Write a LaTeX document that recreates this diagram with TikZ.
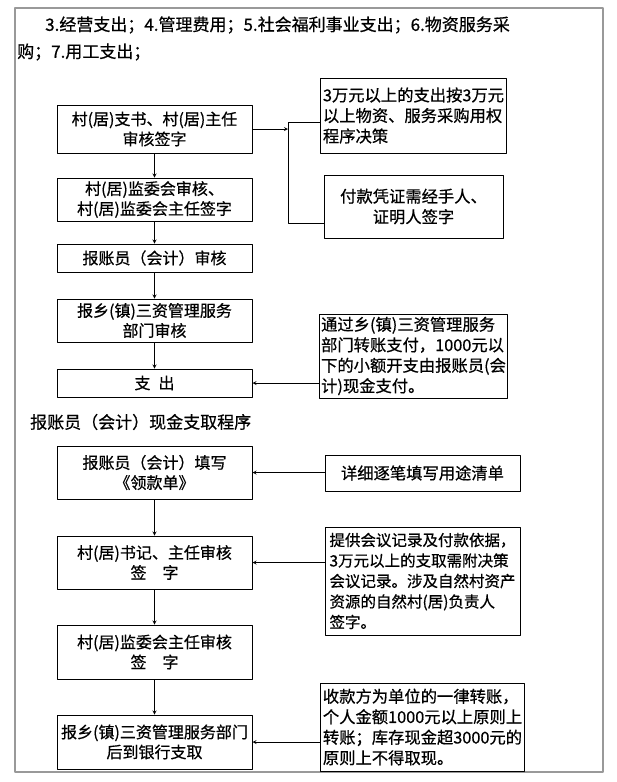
\documentclass[tikz,border=0pt]{standalone}
\usepackage{fontspec}
\setmainfont{Noto Sans CJK SC}[FakeBold=0.6]
\begin{document}
\begin{tikzpicture}[line join=round,>=stealth,x=1pt,y=-1pt]
\tikzset{box style/.style={draw,line width=1pt,minimum width=195pt,inner sep=2pt,align=center,font=\fontsize{16}{20}\selectfont},
	note style/.style={draw,line width=1pt,inner sep=2pt,align=left,font=\fontsize{16.3}{20.5}\selectfont},
	head style/.style={anchor=west,inner sep=0pt,font=\fontsize{17}{20}\selectfont}}
\useasboundingbox (0,0) rectangle (617,782);
\draw[gray!80,line width=1.2pt] (15,8) rectangle (603,772);
\node[head style] (head1) at (45,25) {3.经营支出；4.管理费用；5.社会福利事业支出；6.物资服务采};
\node[head style] (head2) at (17,52) {购；7.用工支出；};
% first procedure
\node[box style,minimum height=48pt] (a) at (154.5,129) {村(居)支书、村(居)主任\\审核签字};
\node[box style,minimum height=43pt] (b) at (154.5,199.5) {村(居)监委会审核、\\村(居)监委会主任签字};
\node[box style,minimum height=28pt] (c) at (154.5,258) {报账员（会计）审核};
\node[box style,minimum height=43pt] (d) at (154.5,320.5) {报乡(镇)三资管理服务\\部门审核};
\node[box style,minimum height=28pt] (e) at (154.5,383) {支\enspace 出};
\node[note style,minimum width=179pt,minimum height=75pt] (r1) at (413.5,115.5) {3万元以上的支出按3万元\\以上物资、服务采购用权\\程序决策};
\node[note style,align=center,minimum width=179pt,minimum height=63pt] (r2) at (413.5,206.5) {付款凭证需经手人、\\证明人签字};
\node[note style,minimum width=179pt,minimum height=84pt] (r3) at (413.5,356) {通过乡(镇)三资管理服务\\部门转账支付，1000元以\\下的小额开支由报账员(会\\计)现金支付。};
\node[head style] (title) at (30,422) {报账员（会计）现金支取程序};
% cash procedure
\node[box style,minimum height=53pt] (f) at (154.5,472.5) {报账员（会计）填写\\《领款单》};
\node[box style,minimum height=53pt] (g) at (154.5,562.5) {村(居)书记、主任审核\\签\quad 字};
\node[box style,minimum height=54pt] (h) at (154.5,652) {村(居)监委会主任审核\\签\quad 字};
\node[box style,minimum height=54pt] (i) at (154.5,742) {报乡(镇)三资管理服务部门\\后到银行支取};
\node[note style,align=center,minimum width=195pt,minimum height=36pt] (r4) at (422.5,473) {详细逐笔填写用途清单};
\node[note style,font=\fontsize{15.5}{20.5}\selectfont,minimum width=195pt,minimum height=108pt] (r5) at (422.5,581) {提供会议记录及付款依据，\\3万元以上的支取需附决策\\会议记录。涉及自然村资产\\资源的自然村(居)负责人\\签字。};
\node[note style,minimum width=195pt,minimum height=88pt] (r6) at (422.5,727) {收款方为单位的一律转账，\\个人金额1000元以上原则上\\转账；库存现金超3000元的\\原则上不得取现。};
% connectors
\foreach \u/\v in {a/b,b/c,c/d,d/e,f/g,g/h,h/i}
	\draw[->,line width=0.8pt] (\u) -- (\v);
\coordinate (jt) at (288,122);
\coordinate (jb) at (288,223);
\draw[->,line width=0.8pt] (a) -- (a -| jt);
\draw[line width=0.8pt] (jt -| r1.west) -- (jt) -- (jb) -- (jb -| r2.west);
\draw[->,line width=0.8pt] (e -| r3.west) -- (e);
\draw[->,line width=0.8pt] (f -| r4.west) -- (f);
\draw[->,line width=0.8pt] (g -| r5.west) -- (g);
\draw[->,line width=0.8pt] (i -| r6.west) -- (i);
\end{tikzpicture}
\end{document}
